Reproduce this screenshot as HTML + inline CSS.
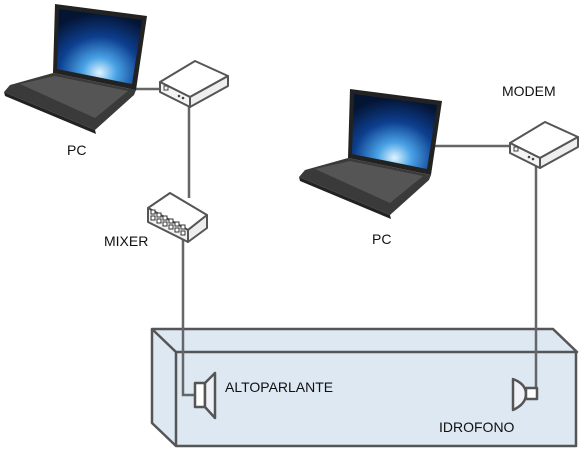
<!DOCTYPE html>
<html><head><style>
html,body{margin:0;padding:0;background:#fff;}
svg{display:block;}
text{font-family:"Liberation Sans",sans-serif;font-size:14px;fill:#111;}
</style></head><body>
<svg width="587" height="457" viewBox="0 0 587 457">
<defs>
<radialGradient id="scr" cx="0.5" cy="0.85" r="0.8">
<stop offset="0" stop-color="#dff4ff"/><stop offset="0.25" stop-color="#4aa3e6"/><stop offset="0.6" stop-color="#0d3f8f"/><stop offset="1" stop-color="#041433"/>
</radialGradient>
<g id="lap">
<polygon points="55,4 147,16 136,90 53,73" fill="#222"/>
<polygon points="59,9 142,20 132,84 57,69" fill="url(#scr)"/>
<polygon points="53,73 136,90 134,95 95,130 4,92 10,85" fill="#3a3a3a"/>
<polygon points="20,84 55,76 128,91 95,118" fill="#555"/>
<polygon points="4,92 95,130 96,134 5,96" fill="#222"/>
</g>
<g id="modem">
<polygon points="160,82 195,61 228,76 190,97" fill="#fff" stroke="#555" stroke-width="2" stroke-linejoin="round"/>
<polygon points="160,82 190,97 190,107 160,92" fill="#f4f4f4" stroke="#555" stroke-width="2" stroke-linejoin="round"/>
<polygon points="190,97 228,76 228,86 190,107" fill="#eee" stroke="#555" stroke-width="2" stroke-linejoin="round"/>
<rect x="164" y="86" width="4" height="4" fill="none" stroke="#444"/>
<circle cx="179" cy="96" r="1.3" fill="#444"/><circle cx="183" cy="98" r="1.3" fill="#444"/>
</g>
</defs>
<!-- box -->
<polygon points="152,329 553,329 577,352 577,446 176,446 152,423" fill="#dde8f2"/>
<g fill="none" stroke="#555" stroke-width="2.5" stroke-linejoin="round">
<polygon points="152,329 553,329 577,352 176,352"/>
<polyline points="152,329 152,423 176,446 576,446 576,352"/>
<line x1="176" y1="352" x2="176" y2="446"/>
</g>
<!-- wires -->
<g fill="none" stroke="#666" stroke-width="2.5">
<line x1="130" y1="89" x2="162" y2="89"/>
<line x1="189" y1="104" x2="189" y2="198"/>
<polyline points="183,238 183,395 196,395"/>
<line x1="432" y1="146" x2="512" y2="146"/>
<polyline points="536,160 536,398"/>
</g>
<use href="#lap"/>
<use href="#lap" transform="translate(295,85)"/>
<use href="#modem"/>
<use href="#modem" transform="translate(350,61)"/>
<!-- mixer -->
<g stroke="#555" stroke-width="2" stroke-linejoin="round">
<polygon points="148,208 170,193 207,215 188,230" fill="#fff"/>
<polygon points="148,208 188,230 188,242 148,222" fill="#f2f2f2"/>
<polygon points="188,230 207,215 207,228 188,242" fill="#eee"/>
</g>
<g fill="#fff" stroke="#333" stroke-width="1">
<rect x="151" y="210" width="4" height="4"/><rect x="157" y="213" width="4" height="4"/><rect x="163" y="216" width="4" height="4"/><rect x="169" y="219" width="4" height="4"/><rect x="175" y="222" width="4" height="4"/><rect x="181" y="225" width="4" height="4"/>
<rect x="151" y="216" width="4" height="4"/><rect x="157" y="219" width="4" height="4"/><rect x="163" y="222" width="4" height="4"/><rect x="169" y="225" width="4" height="4"/><rect x="175" y="228" width="4" height="4"/><rect x="181" y="231" width="4" height="4"/>
</g>
<!-- speaker -->
<g stroke="#555" stroke-width="2.5" stroke-linejoin="round">
<rect x="195" y="383" width="10" height="24" fill="#fff"/>
<polygon points="205,383 215,373 215,418 205,407" fill="#eef2f6"/>
</g>
<!-- hydrophone -->
<g stroke="#555" stroke-width="2.5" stroke-linejoin="round">
<path d="M513,379 Q526,384 526,394 Q526,404 513,410 Z" fill="#eef2f6"/>
<rect x="526" y="388" width="11" height="11" fill="#fff"/>
</g>
<text x="67" y="155">PC</text>
<text x="104" y="246">MIXER</text>
<text x="372" y="244">PC</text>
<text x="502" y="96">MODEM</text>
<text x="225" y="392">ALTOPARLANTE</text>
<text x="439" y="432">IDROFONO</text>
</svg>
</body></html>
